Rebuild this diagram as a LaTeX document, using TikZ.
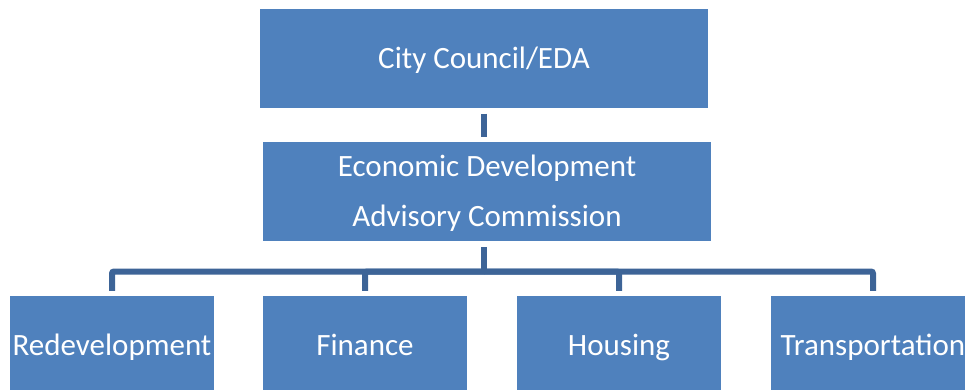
\documentclass[tikz,border=0pt]{standalone}
\usepackage{fontspec}
\setmainfont{Carlito}
\definecolor{boxblue}{HTML}{4F81BD}
\definecolor{lineblue}{HTML}{3D6497}
\begin{document}
\begin{tikzpicture}[x=1pt,y=-1pt,
  orgbox/.style={rectangle, fill=boxblue, draw=none, text=white, inner sep=0pt,
    font=\fontsize{31}{50}\selectfont, text height=20pt, text depth=0pt, align=center},
  conn/.style={draw=lineblue, line width=6pt}]
\useasboundingbox (0,0) rectangle (965,389);
\clip (0,0) rectangle (965,389);
\node[orgbox, minimum width=448pt, minimum height=99pt] (council) at (484,58) {City Council/EDA};
\node[orgbox, minimum width=448pt, minimum height=99pt, text height=70pt] (edac) at (487,191.5) {Economic Development\\Advisory Commission};
\node[orgbox, minimum width=204pt, minimum height=98pt] (redev) at (112,345) {Redevelopment};
\node[orgbox, minimum width=204pt, minimum height=98pt] (fin) at (365,345) {Finance};
\node[orgbox, minimum width=204pt, minimum height=98pt] (hous) at (619,345) {Housing};
\node[orgbox, minimum width=204pt, minimum height=98pt] (trans) at (873,345) {Transportation};
\coordinate (bus) at (484,271.5);
\draw[conn, shorten <=6pt, shorten >=5pt] (council.south) -- (council.south |- edac.north);
\draw[conn, shorten <=6pt] (council.south |- edac.south) -- (bus);
\foreach \b in {redev,fin,hous,trans}{
  \draw[conn, rounded corners=2pt, shorten >=5pt] (bus) -| (\b.north);
}
\end{tikzpicture}
\end{document}
